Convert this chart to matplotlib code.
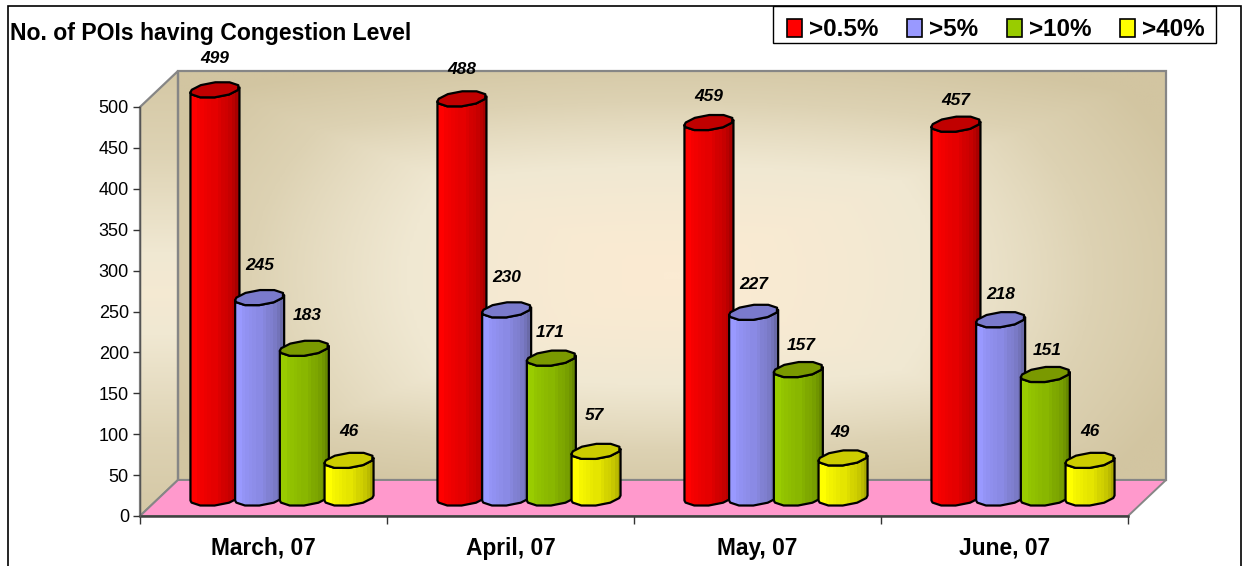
import numpy as np
import matplotlib
matplotlib.use('Agg')
import matplotlib.pyplot as plt
from matplotlib.colors import LinearSegmentedColormap
from matplotlib.patches import Polygon, Rectangle

plt.rcParams['font.family'] = ['Liberation Sans', 'DejaVu Sans']

months = ['March, 07', 'April, 07', 'May, 07', 'June, 07']
levels = ['>0.5%', '>5%', '>10%', '>40%']
poi_05 = [499, 488, 459, 457]
poi_5 = [245, 230, 227, 218]
poi_10 = [183, 171, 157, 151]
poi_40 = [46, 57, 49, 46]
series = [poi_05, poi_5, poi_10, poi_40]

bar_cols = ['#FF0000', '#9999FF', '#99CC00', '#FFFF00']
top_cols = ['#C00000', '#7A7ACC', '#7A9900', '#CCCC00']
dark_cols = ['#A80000', '#6A6AA8', '#668800', '#AAAA00']

# label placement, pixels above the bar top and sideways
label_gap = [[31, 29, 26, 24], [32, 32, 28, 25], [33, 26, 24, 24], [29, 36, 25, 29]]
label_dx = [[0, 0, 0, 0], [0, 0, 0, 0], [3, -1, 3, 2], [0, -2, -3, 0]]

W, H = 1247, 566
fig = plt.figure(figsize=(W / 100, H / 100), dpi=100, facecolor='white')
ax = fig.add_axes([140 / W, (H - 516) / H, 988 / W, 409 / H])
ax.set_xlim(0, 4)
ax.set_ylim(0, 500)

# pixels to data units
px = 4 / 988
py = 500 / 409
wall_dx, wall_dy = 38 * px, 36 * py
bar_dx, bar_dy = 18.5 * px, 18 * py


def gradient_fill(poly, img, extent, z, cmap=None, interp='bilinear'):
    ax.add_patch(poly)
    im = ax.imshow(img, extent=extent, aspect='auto', zorder=z, cmap=cmap, vmin=0, vmax=1,
                   interpolation=interp, origin='lower')
    im.set_clip_box(fig.bbox)
    im.set_clip_path(poly)
    ax.set_xlim(0, 4)
    ax.set_ylim(0, 500)


# walls
wall_cm = LinearSegmentedColormap.from_list('wall', ['#D2C5A1', '#DDD2B3', '#F0E8D2', '#FBEBD3'])
gy, gx = np.mgrid[-1:1:200j, -1:1:300j]
back = np.clip(1 - np.maximum(np.abs(gx) ** 1.3, np.abs(gy) ** 1.3) * 0.55 - (gx ** 2 + gy ** 2) * 0.3, 0, 1)
back_poly = Polygon([(wall_dx, wall_dy), (4 + wall_dx, wall_dy), (4 + wall_dx, 500 + wall_dy), (wall_dx, 500 + wall_dy)],
                    closed=True, facecolor='none', edgecolor='none', zorder=1, clip_on=False)
gradient_fill(back_poly, back, [wall_dx, 4 + wall_dx, wall_dy, 500 + wall_dy], 0.5, wall_cm)
ax.add_patch(Polygon(back_poly.get_xy(), closed=True, facecolor='none', edgecolor='#868686', lw=1.6, zorder=1, clip_on=False))

side = np.clip(1 - np.abs(gy) * 0.9, 0, 1) * 0.8
side_poly = Polygon([(0, 0), (wall_dx, wall_dy), (wall_dx, 500 + wall_dy), (0, 500)],
                    closed=True, facecolor='none', edgecolor='none', zorder=1, clip_on=False)
gradient_fill(side_poly, side, [0, wall_dx, 0, 500 + wall_dy], 0.6, wall_cm)
ax.add_patch(Polygon(side_poly.get_xy(), closed=True, facecolor='none', edgecolor='#868686', lw=1.6, zorder=1, clip_on=False))

# floor
ax.add_patch(Polygon([(0, 0), (wall_dx, wall_dy), (4 + wall_dx, wall_dy), (4, 0)], closed=True,
                     facecolor='#FF99CC', edgecolor='#868686', lw=1.4, zorder=1.5, clip_on=False))

# cylinders, coarse facets like the original
n_facet = 10
t = np.linspace(0, 2 * np.pi, n_facet, endpoint=False) + 0.3
rx, skew, ry = 24.5 * px, 2.5 * py, 7.5 * py
spacing = 44.7 * px
stripe = np.array([0.0, 0.0, 0.1, 0.15, 0.2, 0.25, 0.3, 0.3, 0.4, 0.5, 0.55, 0.65, 0.8, 1.0])

z = 3
for i, month in enumerate(months):
    for j, vals in enumerate(series):
        cx = i + 0.5 + (j - 1.5) * spacing + bar_dx
        base = bar_dy
        top = vals[i] + bar_dy
        ex = rx * np.cos(t)
        ey = skew * np.cos(t) + ry * np.sin(t)
        front = (np.sin(t) < 0)
        order = np.argsort(ex[front])
        fx, fy = ex[front][order], ey[front][order]
        body_x = np.r_[cx - rx, cx + fx, cx + rx, cx + rx, cx + fx[::-1], cx - rx]
        body_y = np.r_[base - skew, base + fy, base + skew, top + skew, top + fy[::-1], top - skew]
        body = Polygon(np.c_[body_x, body_y], closed=True, facecolor='none', edgecolor='none', zorder=z, clip_on=False)
        cm = LinearSegmentedColormap.from_list('bar', [bar_cols[j], dark_cols[j]])
        gradient_fill(body, stripe[None, :], [cx - rx, cx + rx, base - 10 * py, top + 10 * py], z, cm, 'nearest')
        ax.add_patch(Polygon(np.c_[body_x, body_y], closed=True, facecolor='none', edgecolor='black', lw=1.6,
                             zorder=z + 0.1, clip_on=False, joinstyle='round'))
        ax.add_patch(Polygon(np.c_[cx + np.r_[-rx, ex], top + np.r_[-skew, ey]][np.argsort(np.arctan2(np.r_[-skew, ey] / ry, np.r_[-rx, ex] / rx))],
                             closed=True, facecolor=top_cols[j], edgecolor='black', lw=1.6,
                             zorder=z + 0.2, clip_on=False, joinstyle='round'))
        ax.text(cx + label_dx[j][i] * px, top + label_gap[j][i] * py, str(vals[i]), ha='center', va='center',
                fontsize=12.5, fontweight='bold', style='italic', color='black', zorder=200, clip_on=False)
        z += 1

# axes
ax.patch.set_visible(False)
for s in ['top', 'right']:
    ax.spines[s].set_visible(False)
ax.spines['left'].set_color('#555555')
ax.spines['left'].set_linewidth(1.0)
ax.spines['bottom'].set_color('#404040')
ax.spines['bottom'].set_linewidth(1.8)
ax.spines['bottom'].set_zorder(2)
ax.set_yticks(np.arange(0, 501, 50))
ax.tick_params(axis='y', labelsize=13, length=5, width=1, color='#333333', pad=3)
ax.set_xticks(np.arange(0, 5))
ax.set_xticklabels([])
ax.tick_params(axis='x', length=6, width=1, color='#333333')
for i, month in enumerate(months):
    ax.text(i + 0.5, -39 * py, month, ha='center', va='baseline', fontsize=16.4, fontweight='bold', clip_on=False)

# outer frame, title, legend
fig.add_artist(Rectangle((8 / W, -0.05), (1241 - 8) / W, 0.05 + (H - 6) / H, transform=fig.transFigure,
                         facecolor='none', edgecolor='black', lw=1.2))
fig.text(10 / W, 1 - 40 / H, 'No. of POIs having Congestion Level', fontsize=16.6, fontweight='bold', va='baseline', ha='left')

fig.add_artist(Rectangle((774 / W, 1 - 44 / H), 443 / W, 38 / H, transform=fig.transFigure,
                         facecolor='#808080', edgecolor='none', zorder=5))
fig.add_artist(Rectangle((773 / W, 1 - 43 / H), 443 / W, 37 / H, transform=fig.transFigure,
                         facecolor='white', edgecolor='black', lw=1.0, zorder=6))
leg_x = [787, 907, 1007, 1120]
for x0, lab, col in zip(leg_x, levels, bar_cols):
    fig.add_artist(Rectangle((x0 / W, 1 - 37 / H), 15 / W, 18 / H, transform=fig.transFigure,
                             facecolor=col, edgecolor='black', lw=1.2, zorder=7))
    fig.text((x0 + 22) / W, 1 - 36 / H, lab, fontsize=17.5, fontweight='bold', va='baseline', ha='left', zorder=7)

fig.savefig('out.png', dpi=100)
